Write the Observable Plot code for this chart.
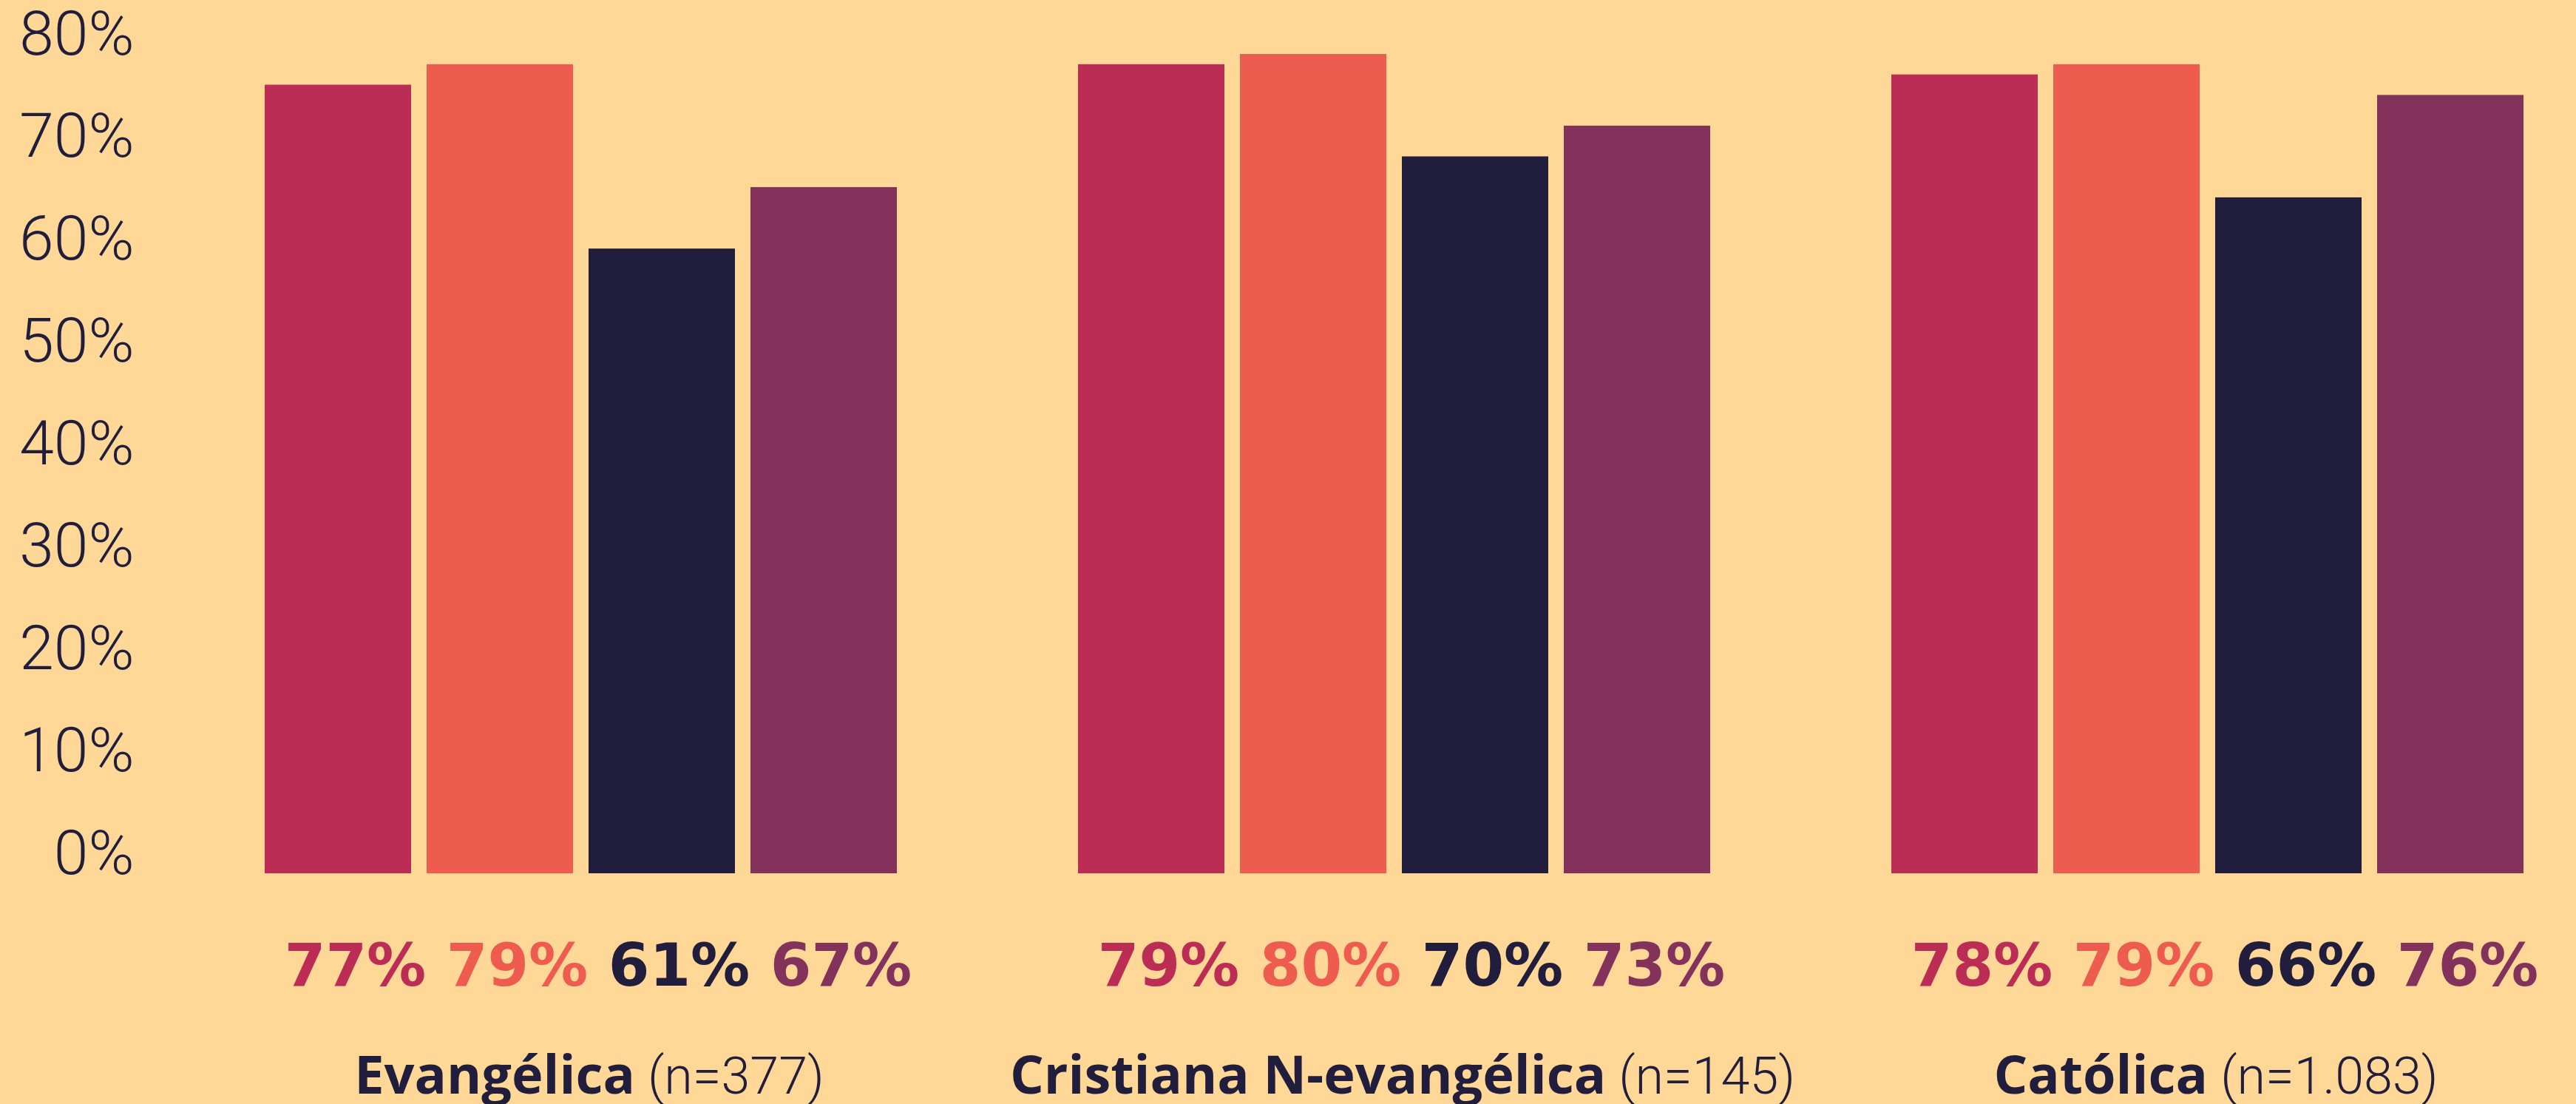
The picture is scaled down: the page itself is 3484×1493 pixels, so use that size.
<!DOCTYPE html>
<html><head><meta charset="utf-8">
<script src="https://cdn.jsdelivr.net/npm/d3@7"></script>
<script src="https://cdn.jsdelivr.net/npm/@observablehq/plot@0.6"></script>
<style>
html,body{margin:0;padding:0;background:#FFD796;}
</style></head><body><div id="chart"></div>
<script>
const groups = ["Evangélica", "Cristiana N-evangélica", "Católica"];
const sampleSizes = ["(n=377)", "(n=145)", "(n=1.083)"];
const series = ["Serie 1", "Serie 2", "Serie 3", "Serie 4"];
const colors = ["#BB2D54", "#EE5B4F", "#211D3D", "#82325B"];
const evangelica = [77, 79, 61, 67];
const cristiana = [79, 80, 70, 73];
const catolica = [78, 79, 66, 76];
const yTicks = [0, 10, 20, 30, 40, 50, 60, 70, 80];

const valuesByGroup = [evangelica, cristiana, catolica];
const rows = groups.flatMap((g, gi) => series.map((s, si) => ({group: g, series: s, value: valuesByGroup[gi][si]})));
const cats = groups.map((g, i) => ({group: g, n: sampleSizes[i]}));

const chart = Plot.plot({
  width: 3484, height: 1493,
  marginLeft: 355, marginRight: 68, marginTop: 73, marginBottom: 312,
  style: {background: "#FFD796", color: "#211D3D", overflow: "visible"},
  fx: {domain: groups, paddingInner: 0.219, paddingOuter: 0, axis: null, label: null},
  x: {domain: series, paddingInner: 0.095, paddingOuter: 0, axis: null},
  y: {domain: [0, 80], axis: null},
  color: {domain: series, range: colors},
  marks: [
    Plot.axisY({ticks: yTicks, tickFormat: d => d + "%", tickSize: 0, tickPadding: 175, lineAnchor: "bottom",
      fontSize: 84, fontFamily: "Roboto", fontWeight: 300, color: "#211D3D", label: null}),
    Plot.barY(rows, {fx: "group", x: "series", y: "value", fill: "series"}),
    Plot.text(rows, {fx: "group", x: "series", text: d => d.value + "%", fill: "series",
      frameAnchor: "bottom", lineAnchor: "bottom", dy: 151, dx: 23,
      fontSize: 80, fontWeight: 700, fontFamily: "DejaVu Sans"}),
    Plot.text(cats, {fx: "group", text: "group", frameAnchor: "bottom", lineAnchor: "bottom",
      dy: 297, dx: 11, fontSize: 72, fill: "#211D3D"})
  ]
});

d3.select(chart).selectAll("text").each(function () {
  const name = this.textContent;
  const i = groups.indexOf(name);
  if (i < 0) return;
  const el = d3.select(this);
  el.text(null);
  el.append("tspan").attr("font-weight", 700).attr("font-family", "'Open Sans', sans-serif").text(name);
  el.append("tspan").attr("font-weight", 300).attr("font-family", "Roboto, sans-serif").attr("font-size", 70).text(" " + sampleSizes[i]);
});

document.getElementById("chart").appendChild(chart);
</script></body></html>
